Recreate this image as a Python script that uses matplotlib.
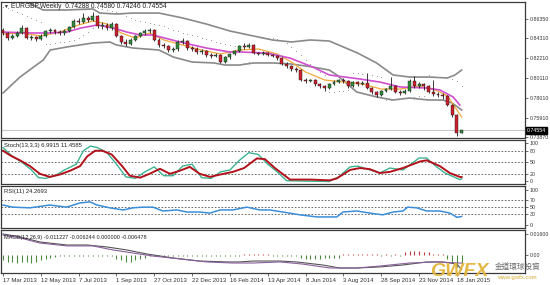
import matplotlib.pyplot as plt
import matplotlib.transforms as mtransforms

plt.rcParams['font.family'] = ['Liberation Sans', 'DejaVu Sans']

# weekly candles, 17 Mar 2013 .. 25 Jan 2015
opens = [0.8519, 0.8487, 0.8434, 0.8455, 0.8487, 0.8540, 0.8434, 0.8445, 0.8423, 0.8455,
         0.8508, 0.8519, 0.8497, 0.8487, 0.8508, 0.8550, 0.8614, 0.8603, 0.8646, 0.8624,
         0.8667, 0.8561, 0.8572, 0.8540, 0.8582, 0.8455, 0.8392, 0.8371, 0.8413, 0.8455,
         0.8487, 0.8508, 0.8519, 0.8413, 0.8360, 0.8349, 0.8307, 0.8318, 0.8392, 0.8402,
         0.8328, 0.8318, 0.8286, 0.8296, 0.8254, 0.8244, 0.8254, 0.8180, 0.8233, 0.8265,
         0.8296, 0.8349, 0.8339, 0.8360, 0.8275, 0.8265, 0.8275, 0.8254, 0.8244, 0.8222,
         0.8159, 0.8138, 0.8106, 0.8095, 0.7990, 0.7979, 0.7990, 0.7947, 0.7926, 0.7905,
         0.7947, 0.7968, 0.7990, 0.7979, 0.7926, 0.7968, 0.7947, 0.7958, 0.7905, 0.7863,
         0.7831, 0.7873, 0.7894, 0.7926, 0.7863, 0.7852, 0.7873, 0.7979, 0.7926, 0.7947,
         0.7926, 0.7863, 0.7842, 0.7831, 0.7820, 0.7725, 0.7619, 0.74288]
closes = [0.8487, 0.8434, 0.8455, 0.8487, 0.8540, 0.8434, 0.8445, 0.8423, 0.8455, 0.8508,
          0.8519, 0.8497, 0.8487, 0.8508, 0.8550, 0.8614, 0.8603, 0.8646, 0.8624, 0.8667,
          0.8561, 0.8572, 0.8540, 0.8582, 0.8455, 0.8392, 0.8371, 0.8413, 0.8455, 0.8487,
          0.8508, 0.8519, 0.8413, 0.8360, 0.8349, 0.8307, 0.8318, 0.8392, 0.8402, 0.8328,
          0.8318, 0.8286, 0.8296, 0.8254, 0.8244, 0.8254, 0.8180, 0.8233, 0.8265, 0.8296,
          0.8349, 0.8339, 0.8360, 0.8275, 0.8265, 0.8275, 0.8254, 0.8244, 0.8222, 0.8159,
          0.8138, 0.8106, 0.8095, 0.7990, 0.7979, 0.7990, 0.7947, 0.7926, 0.7905, 0.7947,
          0.7968, 0.7990, 0.7979, 0.7926, 0.7968, 0.7947, 0.7958, 0.7905, 0.7863, 0.7831,
          0.7873, 0.7894, 0.7926, 0.7863, 0.7852, 0.7873, 0.7979, 0.7926, 0.7947, 0.7926,
          0.7863, 0.7842, 0.7831, 0.7820, 0.7725, 0.7619, 0.7429, 0.74554]
highs = [0.8540, 0.8498, 0.8476, 0.8508, 0.8572, 0.8550, 0.8466, 0.8460, 0.8476, 0.8520,
         0.8540, 0.8530, 0.8515, 0.8525, 0.8565, 0.8630, 0.8650, 0.8698, 0.8670, 0.8709,
         0.8680, 0.8600, 0.8590, 0.8600, 0.8590, 0.8470, 0.8420, 0.8430, 0.8470, 0.8500,
         0.8530, 0.8545, 0.8530, 0.8430, 0.8380, 0.8365, 0.8340, 0.8410, 0.8430, 0.8415,
         0.8350, 0.8335, 0.8320, 0.8310, 0.8275, 0.8280, 0.8265, 0.8245, 0.8280, 0.8310,
         0.8365, 0.8381, 0.8381, 0.8370, 0.8290, 0.8295, 0.8285, 0.8270, 0.8255, 0.8235,
         0.8175, 0.8150, 0.8125, 0.8105, 0.8010, 0.8005, 0.8000, 0.7960, 0.7940, 0.7960,
         0.7985, 0.8005, 0.8010, 0.7990, 0.7980, 0.7975, 0.7975, 0.8060, 0.7920, 0.7875,
         0.7885, 0.7910, 0.8021, 0.7935, 0.7880, 0.7890, 0.8000, 0.8030, 0.7965, 0.7960,
         0.7940, 0.7990, 0.7860, 0.7850, 0.7830, 0.7735, 0.7630, 0.74580]
lows = [0.8466, 0.8413, 0.8420, 0.8440, 0.8476, 0.8420, 0.8413, 0.8402, 0.8410, 0.8445,
        0.8487, 0.8480, 0.8466, 0.8470, 0.8497, 0.8540, 0.8580, 0.8590, 0.8600, 0.8610,
        0.8540, 0.8530, 0.8520, 0.8520, 0.8440, 0.8371, 0.8350, 0.8360, 0.8400, 0.8440,
        0.8470, 0.8490, 0.8400, 0.8340, 0.8330, 0.8290, 0.8290, 0.8300, 0.8375, 0.8310,
        0.8300, 0.8265, 0.8270, 0.8235, 0.8225, 0.8230, 0.8165, 0.8170, 0.8215, 0.8250,
        0.8285, 0.8320, 0.8325, 0.8260, 0.8250, 0.8255, 0.8240, 0.8230, 0.8205, 0.8145,
        0.8120, 0.8090, 0.8075, 0.7975, 0.7960, 0.7965, 0.7930, 0.7905, 0.7875, 0.7890,
        0.7935, 0.7955, 0.7960, 0.7910, 0.7915, 0.7930, 0.7935, 0.7890, 0.7845, 0.7815,
        0.7820, 0.7860, 0.7880, 0.7850, 0.7835, 0.7838, 0.7860, 0.7910, 0.7905, 0.7880,
        0.7850, 0.7825, 0.7815, 0.7790, 0.7710, 0.7600, 0.7395, 0.74246]

# parabolic SAR, one dot per week
sar = [0.8762, 0.8751, 0.8730, 0.8709, 0.8688, 0.8667, 0.8646, 0.8624, 0.8603, 0.8371,
       0.8371, 0.8381, 0.8392, 0.8392, 0.8402, 0.8413, 0.8434, 0.8466, 0.8497, 0.8540,
       0.8751, 0.8741, 0.8730, 0.8720, 0.8709, 0.8688, 0.8667, 0.8646, 0.8624, 0.8614,
       0.8603, 0.8593, 0.8582, 0.8572, 0.8561, 0.8540, 0.8519, 0.8508, 0.8487, 0.8476,
       0.8466, 0.8455, 0.8434, 0.8423, 0.8413, 0.8392, 0.8381, 0.8371, 0.8360, 0.8349,
       0.8159, 0.8170, 0.8180, 0.8455, 0.8445, 0.8445, 0.8434, 0.8434, 0.8423, 0.8413,
       0.8381, 0.8339, 0.8296, 0.8254, 0.8201, 0.8159, 0.8117, 0.8074, 0.8043, 0.7863,
       0.7863, 0.7873, 0.7873, 0.7884, 0.8064, 0.8064, 0.8053, 0.8053, 0.8043, 0.8032,
       0.8021, 0.7778, 0.7778, 0.7789, 0.7789, 0.7799, 0.7799, 0.7810, 0.7820, 0.7820,
       0.8043, 0.8032, 0.8021, 0.8021, 0.8011, 0.8000, 0.7979, 0.7926]

# bollinger bands (read at knots: week index, price)
bb_up_idx = [0, 5, 8.5, 13, 19, 20.5, 24, 27.5, 33, 38, 43, 48, 53, 57, 61, 65, 69, 71, 75, 79, 82.5, 86, 90, 94, 95.6, 97]
bb_up = [0.8921, 0.8815, 0.8730, 0.8730, 0.8741, 0.8698, 0.8688, 0.8698, 0.8698, 0.8646, 0.8582, 0.8508, 0.8455,
         0.8413, 0.8392, 0.8413, 0.8402, 0.8360, 0.8275, 0.8170, 0.8043, 0.8021, 0.8021, 0.8011, 0.8043, 0.8095]
bb_lo_idx = [0, 3.6, 8.5, 10, 13.5, 19, 22.6, 24, 27.5, 33, 36, 40, 44.6, 47, 50, 53, 57, 61, 65.5, 69, 70.6, 74.8, 79, 82.5, 86, 90, 93, 95, 97]
bb_lo = [0.7852, 0.8021, 0.8201, 0.8307, 0.8339, 0.8381, 0.8392, 0.8360, 0.8328, 0.8307, 0.8233, 0.8180, 0.8170,
         0.8148, 0.8148, 0.8170, 0.8170, 0.8159, 0.8127, 0.8095, 0.8043, 0.7863, 0.7810, 0.7778, 0.7799, 0.7778,
         0.7778, 0.7746, 0.7672]

# moving averages
ma_slow_idx = [0, 6, 10, 13.5, 16.5, 20, 23.3, 26.2, 29, 31.7, 37.4, 43, 48, 50, 55.8, 60.7, 65.5, 69, 75.5, 79.7, 84, 89.6, 92.4, 95.2, 96.6]
ma_slow = [0.8497, 0.8487, 0.8487, 0.8497, 0.8540, 0.8572, 0.8540, 0.8497, 0.8466, 0.8466, 0.8392, 0.8328, 0.8286,
           0.8286, 0.8275, 0.8222, 0.8127, 0.8043, 0.8000, 0.7968, 0.7916, 0.7905, 0.7884, 0.7810, 0.7725]
ma_fast_idx = [0, 4, 8, 12, 16, 19, 22, 25, 28, 31, 34, 38, 42, 46, 50, 54, 58, 61, 64, 68, 72, 76, 80, 84, 88, 92, 94, 96, 97]
ma_fast = [0.8476, 0.8487, 0.8455, 0.8497, 0.8572, 0.8614, 0.8582, 0.8487, 0.8434, 0.8487, 0.8413, 0.8360, 0.8307,
           0.8265, 0.8307, 0.8318, 0.8265, 0.8180, 0.8074, 0.7990, 0.7968, 0.7947, 0.7894, 0.7894, 0.7926, 0.7873,
           0.7820, 0.7672, 0.7598]

# stochastic (13,3,3)
stoch_k_idx = [0, 2, 4, 6, 7.5, 9, 11, 13, 15.5, 17, 18.5, 20, 22, 24, 26, 28, 30, 32, 34, 36, 38, 40, 42, 44, 46,
               48, 50, 52, 54, 56, 58, 60, 64, 69, 71, 73.4, 75, 77.6, 79.7, 81.8, 84.6, 88, 89.6, 91.5, 93.5, 96.6, 97]
stoch_k = [88, 65, 50, 30, 10, 8, 15, 30, 45, 80, 92, 88, 75, 45, 12, 8, 25, 38, 15, 15, 40, 45, 10, 8, 25,
           30, 55, 75, 70, 45, 25, 2, 1, 0, 12, 38, 40, 30, 22, 35, 30, 61, 61, 40, 22, 5, 7]
stoch_d_idx = [0, 1.5, 3.6, 5.7, 7.8, 9.9, 12, 14.2, 16.3, 17.8, 19.5, 21, 23, 25.2, 26.8, 29, 31, 33.2, 35.3, 37.4,
               39.5, 41.6, 43.8, 45.9, 48.6, 51, 53.7, 55.4, 57.5, 60.7, 64.9, 69.1, 70.6, 73.4, 75.5, 77.6, 79.7,
               81.8, 84.6, 88.2, 89.6, 92.4, 94.5, 96.6, 97]
stoch_d = [80, 68, 55, 40, 20, 12, 18, 28, 40, 65, 80, 80, 70, 40, 15, 10, 20, 33, 20, 28,
           38, 20, 12, 18, 25, 35, 60, 58, 35, 5, 5, 3, 8, 30, 35, 32, 22,
           25, 35, 52, 55, 40, 22, 12, 11.5]

# RSI(11)
rsi_idx = [0, 2, 5.7, 9.9, 13.5, 16.3, 18.4, 19.9, 22.6, 25.4, 27.5, 29.6, 31.7, 33.8, 36.8, 38.9, 41.6, 43.8, 45.9,
           48.6, 51.6, 54.3, 56.4, 59.2, 62.8, 66.4, 70.6, 71.9, 74.8, 77.6, 80.3, 82.5, 84.6, 85.6, 87.5, 89.6,
           92.4, 94.5, 96, 97]
rsi = [57, 51, 49, 57, 51, 63, 66, 57, 49, 43, 49, 51, 51, 40, 43, 37, 37, 34, 43,
       43, 51, 43, 43, 37, 29, 23, 23, 37, 40, 34, 29, 37, 40, 51, 49, 40,
       40, 34, 22, 24.3]

# MACD(12,26,9)
macd_idx = [0, 3.6, 7.8, 13.5, 17.8, 22, 26.2, 30.4, 36, 41.6, 47.4, 50, 52.9, 58.6, 62.1, 67.6, 71.2, 74.8, 79.7,
            84.6, 89.6, 93, 96, 97]
macd = [0.0160, 0.0137, 0.0099, 0.0076, 0.0076, 0.0061, 0.0038, 0.0008, -0.0023, -0.0046, -0.0053, -0.0053,
        -0.0046, -0.0046, -0.0053, -0.0076, -0.0099, -0.0099, -0.0091, -0.0076, -0.0053, -0.0053, -0.0069, -0.0112]
signal_idx = [0, 3.6, 7.8, 13.5, 19, 23.3, 27.5, 31.7, 37.4, 43.1, 48.6, 52.9, 58.6, 63.4, 69.1, 74.8, 79.7, 86,
              91.8, 97]
signal = [0.0152, 0.0130, 0.0091, 0.0069, 0.0069, 0.0038, 0.0015, -0.0008, -0.0030, -0.0053, -0.0061, -0.0061,
          -0.0053, -0.0069, -0.0099, -0.0099, -0.0084, -0.0061, -0.0053, -0.0062]
hist = [-0.004, -0.005, -0.005, -0.006, -0.005, -0.005, -0.006, -0.005, -0.004, -0.003,
        -0.002, -0.0015, -0.001, -0.001, -0.0008, -0.0008, -0.0006, -0.0006, -0.0006, -0.0005,
        -0.0005, -0.0004, -0.0004, -0.0004, -0.003, -0.004, -0.005, -0.005, -0.004, -0.003,
        -0.002, -0.0004, -0.0004, -0.0004, -0.0004, -0.0004, -0.0004, -0.0004, -0.0004, -0.0004,
        -0.0004, -0.0004, -0.0004, -0.0004, -0.0004, -0.0004, -0.0004, -0.0004, -0.0004, -0.0004,
        -0.0004, 0.0008, 0.0008, 0.0008, 0.0008, 0.0008, 0.0008, -0.0004, -0.0004, -0.0004,
        -0.0004, -0.0004, -0.0004, -0.002, -0.003, -0.003, -0.003, -0.003, -0.002, -0.002,
        -0.002, -0.002, 0.0008, 0.0008, 0.0008, 0.0008, 0.0008, 0.0008, 0.0008, 0.0004,
        -0.0004, 0.0004, -0.0004, 0.0004, -0.0004, 0.002, 0.003, 0.003, 0.003, 0.0025,
        0.002, 0.0005, 0.0005, 0.0005, -0.003, -0.006, -0.009, -0.0065]

date_idx = [0, 8, 16, 24, 32, 40, 48, 56, 64, 72, 80, 88, 96]
date_labels = ['17 Mar 2013', '12 May 2013', '7 Jul 2013', '1 Sep 2013', '27 Oct 2013', '22 Dec 2013',
               '16 Feb 2014', '13 Apr 2014', '8 Jun 2014', '3 Aug 2014', '28 Sep 2014', '23 Nov 2014',
               '18 Jan 2015']
price_ticks = [0.86350, 0.84310, 0.82210, 0.80110, 0.78010, 0.75910, 0.73870]
last_price = 0.74554

W, H = 550, 285
fig = plt.figure(figsize=(5.5, 2.85), dpi=100)


def panel(top, bottom):
    ax = fig.add_axes([1 / W, 1 - bottom / H, 524 / W, (bottom - top) / H])
    for s in ax.spines.values():
        s.set_color('#3a3a3a')
        s.set_linewidth(0.9)
    ax.yaxis.tick_right()
    ax.tick_params(axis='y', labelsize=3.8, length=2, width=0.5, pad=1.5, colors='#333333')
    ax.tick_params(axis='x', length=0, labelbottom=False)
    ax.set_xlim(-0.42, 110.4)
    return ax


ax = panel(2, 138)
ax_st = panel(140, 184)
ax_rsi = panel(186, 228)
ax_m = panel(230, 273)

# ---- main price panel
x = list(range(len(closes)))
ax.axhline(last_price, color='#c8c8c8', lw=0.8, zorder=1)
ax.plot(bb_up_idx, bb_up, color='#8a8a8a', lw=1.2, zorder=2)
ax.plot(bb_lo_idx, bb_lo, color='#8a8a8a', lw=1.2, zorder=2)
ax.plot(ma_fast_idx, ma_fast, color='#f2a93b', lw=0.9, zorder=2)
ax.plot(ma_slow_idx, ma_slow, color='#d04fd0', lw=1.2, zorder=2)
ax.plot(x, sar, ls='none', marker='o', ms=0.7, mew=0, color='#9a9a9a', zorder=2)

ax.vlines(x, lows, highs, color='#1a1a1a', lw=0.6, zorder=3)
body_bot = [min(o, c) for o, c in zip(opens, closes)]
body_h = [max(abs(c - o), 0.0003) for o, c in zip(opens, closes)]
body_col = ['#2f8a3a' if c >= o else '#cc1f2c' for o, c in zip(opens, closes)]
ax.bar(x, body_h, bottom=body_bot, width=0.62, color=body_col, edgecolor='#1a1a1a', lw=0.3, zorder=4)

ax.set_ylim(0.7376, 0.8815)
ax.set_yticks(price_ticks)
ax.set_yticklabels(['%.5f' % v for v in price_ticks])
tr = mtransforms.blended_transform_factory(ax.transAxes, ax.transData)
ax.text(1.004, last_price, '%.5f' % last_price, transform=tr, fontsize=3.8, color='white', va='center',
        ha='left', bbox=dict(boxstyle='square,pad=0.15', fc='black', ec='black'))
fig.text(3 / W, 1 - 6 / H, '\u25bc', fontsize=3.5, va='center', color='#222222')
fig.text(11 / W, 1 - 6 / H, 'EURGBP,Weekly  0.74288 0.74580 0.74246 0.74554', fontsize=4.8,
         va='center', color='#222222')

# ---- stochastic
for lv in (20, 50, 80):
    ax_st.axhline(lv, color='#555555', lw=0.6, ls=(0, (2, 2)))
ax_st.plot(stoch_k_idx, stoch_k, color='#3cb393', lw=1.0)
ax_st.plot(stoch_d_idx, stoch_d, color='#b3121c', lw=1.4)
ax_st.set_ylim(-6.5, 107.8)
ax_st.set_yticks([0, 20, 50, 80, 100])
fig.text(4 / W, 1 - 146 / H, 'Stoch(13,3,3) 6.9915 11.4585', fontsize=4.2, va='center', color='#222222')

# ---- RSI
for lv in (30, 50, 70):
    ax_rsi.axhline(lv, color='#555555', lw=0.6, ls=(0, (2, 2)))
ax_rsi.plot(rsi_idx, rsi, color='#3a8ed8', lw=1.1)
ax_rsi.set_ylim(-8.6, 111.4)
ax_rsi.set_yticks([0, 30, 50, 70, 100])
fig.text(4 / W, 1 - 192 / H, 'RSI(11) 24.2693', fontsize=4.2, va='center', color='#222222')

# ---- MACD
hist_col = ['#c23a3a' if h > 0 else '#4b8a3c' for h in hist]
ax_m.vlines(x, 0, hist, colors=hist_col, lw=0.8)
ax_m.plot(macd_idx, macd, color='#555555', lw=0.8)
ax_m.plot(signal_idx, signal, color='#8a5f9c', lw=0.8)
ax_m.set_ylim(-0.0137, 0.0190)
ax_m.set_yticks([0.016004, 0.0])
ax_m.set_yticklabels(['0.01600', '0.00'])
fig.text(4 / W, 1 - 237 / H, 'MACD(12,26,9) -0.011227 -0.006244 0.000000 -0.006478', fontsize=4.0,
         va='center', color='#222222')

ax_m.set_xticks(date_idx)
ax_m.set_xticklabels(date_labels, ha='left')
ax_m.tick_params(axis='x', length=2, width=0.5, labelbottom=True, labelsize=4.3, pad=1.5, colors='#333333')

# watermark
fig.text(430 / W, 1 - 272 / H, 'GWFX', fontsize=14, fontweight='bold', fontstyle='italic',
         color='#e3b43a', va='center', ha='left', alpha=0.95)
fig.text(495 / W, 1 - 268 / H, '金道環球投資', fontsize=5.5, color='#6b6b6b', va='center',
         family=['Noto Sans CJK TC', 'DejaVu Sans'])
fig.text(497 / W, 1 - 278 / H, 'www.gwfx.com', fontsize=4.3, color='#d9a830', va='center')

fig.savefig('out.png', dpi=100, facecolor='white')
